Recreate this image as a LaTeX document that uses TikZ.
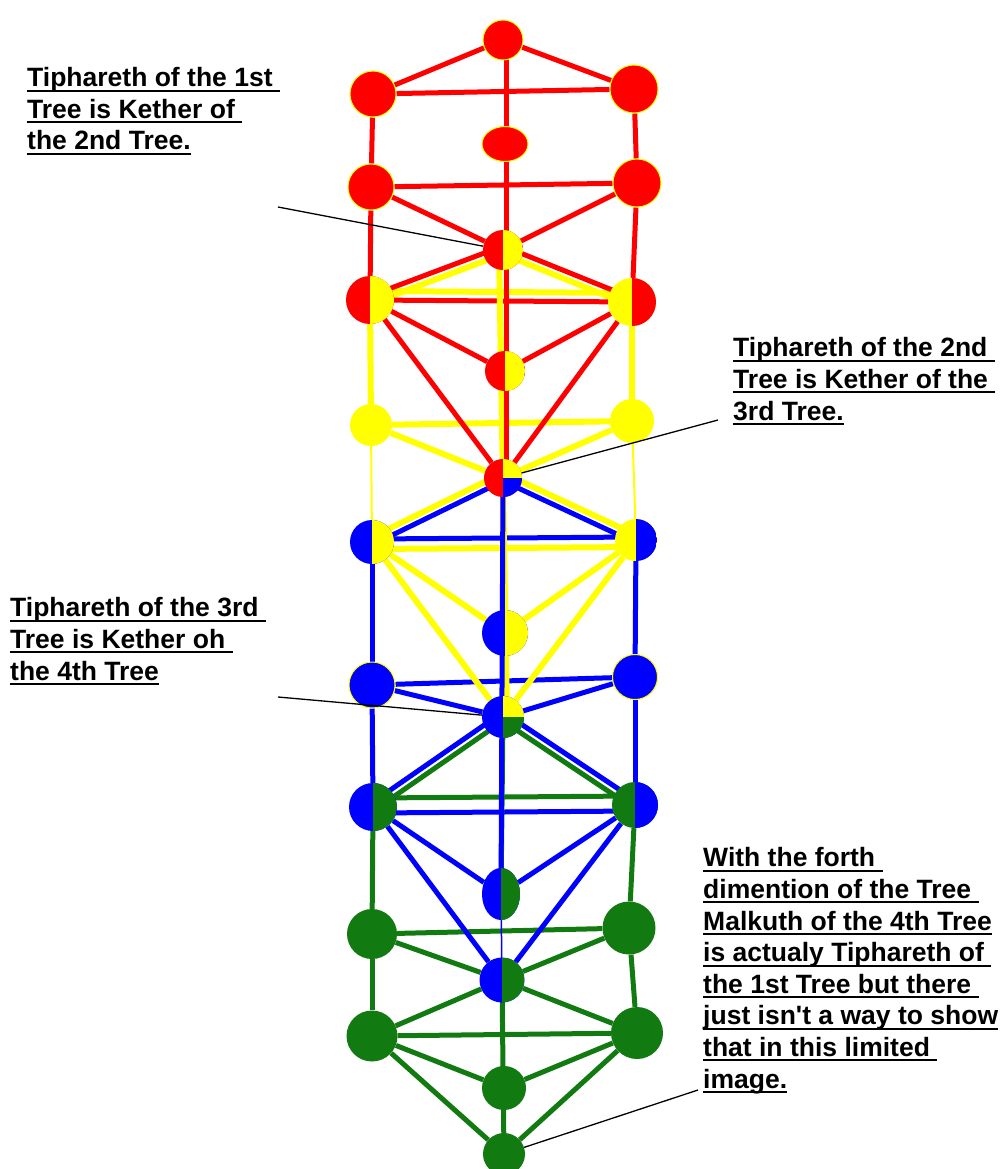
\documentclass[tikz,border=0pt]{standalone}
\usepackage{fontspec}
\setmainfont{Liberation Sans}
\usetikzlibrary{backgrounds,shapes.geometric}
\definecolor{treeR}{HTML}{FF0000}
\definecolor{treeY}{HTML}{FFFF00}
\definecolor{treeB}{HTML}{0000FF}
\definecolor{treeG}{HTML}{117A11}
\newcommand{\undl}[1]{\setbox0\hbox{#1}\rlap{\rule[-5pt]{\wd0}{2pt}}\box0}

\begin{document}
\begin{tikzpicture}[x=1pt, y=-1pt,
  sef/.style={circle, inner sep=0pt, minimum size=#1},
  oval/.style 2 args={ellipse, inner sep=0pt, minimum width=#1, minimum height=#2},
  rim/.style={draw=treeY, line width=1pt},
  half/.style 2 args={fill=#1, path picture={\fill[#2] (path picture bounding box.north) rectangle (path picture bounding box.south east);}},
  third/.style n args={3}{fill=#1, path picture={
    \fill[#2] (path picture bounding box.north) rectangle (path picture bounding box.east);
    \fill[#3] (path picture bounding box.center) rectangle (path picture bounding box.south east);}},
  pathR/.style={treeR, line width=5pt},
  pathY/.style={treeY, line width=6pt},
  pathB/.style={treeB, line width=5pt},
  pathG/.style={treeG, line width=5pt},
  lead/.style={black, line width=1.3pt},
  note/.style={anchor=base west, inner sep=0pt, align=left, font=\fontsize{26.5}{31.6}\selectfont\bfseries}]
  \useasboundingbox (0,0) rectangle (999,1169);

  % first tree (red)
  \node[sef=40, fill=treeR, rim] (rKe) at (503,40) {};
  \node[sef=46, fill=treeR, rim] (rBi) at (373,94) {};
  \node[sef=48, fill=treeR, rim] (rCh) at (634,89) {};
  \node[oval={46}{35}, fill=treeR, rim] (rDa) at (505,144) {};
  \node[sef=46, fill=treeR, rim] (rGe) at (371,187) {};
  \node[sef=48, fill=treeR, rim] (rCs) at (637,183) {};
  \node[sef=40, half={treeR}{treeY}, alias=yKe] (rTi) at (503,250) {};
  \node[sef=48, half={treeR}{treeY}, alias=yBi] (rHo) at (370,300) {};
  \node[sef=48, half={treeY}{treeR}, alias=yCh] (rNe) at (632,302) {};
  \node[sef=40, half={treeR}{treeY}, alias=yDa] (rYe) at (505,371) {};
  \node[sef=38, third={treeR}{treeY}{treeB}, alias=yTi, alias=bKe] (rMa) at (503,478) {};
  % second tree (yellow)
  \node[sef=42, fill=treeY] (yGe) at (371,425) {};
  \node[sef=44, fill=treeY] (yCs) at (632,421) {};
  \node[sef=44, half={treeB}{treeY}, alias=bBi] (yHo) at (372,542) {};
  \node[sef=42, half={treeY}{treeB}, alias=bCh] (yNe) at (636,540) {};
  \node[sef=46, half={treeB}{treeY}, alias=bDa] (yYe) at (505,633) {};
  \node[sef=42, third={treeB}{treeY}{treeG}, alias=bTi, alias=gKe] (yMa) at (503,717) {};
  % third tree (blue)
  \node[sef=46, fill=treeB, rim] (bGe) at (372,685) {};
  \node[sef=45, fill=treeB, rim] (bCs) at (635,677) {};
  \node[sef=48, half={treeB}{treeG}, alias=gBi] (bHo) at (373,807) {};
  \node[sef=46, half={treeG}{treeB}, alias=gCh] (bNe) at (635,805) {};
  \node[oval={38}{52}, half={treeB}{treeG}, alias=gDa] (bYe) at (501,894) {};
  \node[sef=45, half={treeB}{treeG}, alias=gTi] (bMa) at (502,980) {};
  % fourth tree (green)
  \node[sef=50, fill=treeG] (gGe) at (372,934) {};
  \node[sef=53, fill=treeG] (gCs) at (629,928) {};
  \node[sef=51, fill=treeG] (gHo) at (372,1036) {};
  \node[sef=52, fill=treeG] (gNe) at (637,1033) {};
  \node[sef=44, fill=treeG] (gYe) at (504,1088) {};
  \node[sef=42, fill=treeG] (gMa) at (504,1154) {};

  \begin{scope}[on background layer]
    % paths of each tree
    \foreach \a/\b in {Bi/Ge, Ch/Cs, Ge/Cs, Ge/Ti, Cs/Ti, Ti/Ho, Ti/Ne, Ge/Ho, Cs/Ne, Ho/Ne, Ho/Ye, Ne/Ye, Ho/Ma, Ne/Ma}
      \draw[pathG] (g\a) -- (g\b);
    \draw[pathG] ([yshift=-4pt]gKe.center) -- ([yshift=-4pt]gBi.center);
    \draw[pathG] ([yshift=-4pt]gKe.center) -- ([yshift=-4pt]gCh.center);
    \draw[pathG] ([yshift=9pt]gBi.center) -- ([yshift=9pt]gCh.center);

    \foreach \a/\b in {Bi/Ge, Ch/Cs, Ge/Cs, Ge/Ti, Cs/Ti, Ge/Ho, Cs/Ne, Ho/Ye, Ne/Ye, Ho/Ma, Ne/Ma}
      \draw[pathB] (b\a) -- (b\b);
    \draw[pathB] ([yshift=-3pt]bKe.center) -- ([yshift=-3pt]bBi.center);
    \draw[pathB] ([yshift=-3pt]bKe.center) -- ([yshift=-3pt]bCh.center);
    \draw[pathB] ([yshift=3pt]bBi.center) -- ([yshift=3pt]bCh.center);
    \draw[pathB] ([yshift=5pt]bTi.center) -- ([yshift=5pt]bHo.center);
    \draw[pathB] ([yshift=5pt]bTi.center) -- ([yshift=5pt]bNe.center);
    \draw[pathB] ([yshift=-6pt]bHo.center) -- ([yshift=-6pt]bNe.center);

    \foreach \a/\b in {Bi/Ge, Ch/Cs, Ge/Cs, Ge/Ti, Cs/Ti, Ho/Ye, Ne/Ye, Ho/Ma, Ne/Ma}
      \draw[pathY] (y\a) -- (y\b);
    \draw[pathY, line width=2pt] (yGe) -- (yHo);
    \draw[pathY, line width=2pt] (yCs) -- (yNe);
    \draw[pathY] ([yshift=-4pt]yKe.center) -- ([yshift=-4pt]yBi.center);
    \draw[pathY] ([yshift=-4pt]yKe.center) -- ([yshift=-4pt]yCh.center);
    \draw[pathY] ([yshift=9pt]yBi.center) -- ([yshift=9pt]yCh.center);
    \draw[pathY] ([yshift=5pt]yTi.center) -- ([yshift=5pt]yHo.center);
    \draw[pathY] ([yshift=5pt]yTi.center) -- ([yshift=5pt]yNe.center);
    \draw[pathY] ([yshift=-7pt]yHo.center) -- ([yshift=-7pt]yNe.center);

    \foreach \a/\b in {Ke/Bi, Ke/Ch, Bi/Ch, Bi/Ge, Ch/Cs, Ge/Cs, Ge/Ti, Cs/Ti, Ge/Ho, Cs/Ne, Ho/Ne, Ho/Ye, Ne/Ye, Ho/Ma, Ne/Ma}
      \draw[pathR] (r\a) -- (r\b);
    \draw[pathR] ([yshift=4pt]rTi.center) -- ([yshift=4pt]rHo.center);
    \draw[pathR] ([yshift=4pt]rTi.center) -- ([yshift=4pt]rNe.center);

    % middle pillars
    \draw[pathG] (gKe.center) -- (gDa.center);
    \draw[pathG] (gTi.center) -- (gMa.center);
    \draw[pathY] ([xshift=-4pt]yKe.center) -- ([xshift=4pt]yMa.center);
    \draw[pathR] ([xshift=3pt]rKe.center) -- ([xshift=3pt]rMa.center);
    \draw[pathB] (bKe.center) -- (bYe.center);
    \draw[treeB, line width=1.5pt] (bYe.center) -- (bMa.center);
  \end{scope}

  % notes
  \coordinate (l1) at (278,207);
  \coordinate (l2) at (718,420);
  \coordinate (l3) at (278,697);
  \coordinate (l4) at (698,1090);
  \draw[lead] (l1) -- (rTi);
  \draw[lead] (l2) -- (rMa);
  \draw[lead] (l3) -- (yMa);
  \draw[lead] (l4) -- (gMa);

  \node[note] (n1) at (27,150) {\undl{Tiphareth of the 1st\ }\\\undl{Tree is Kether of\ }\\\undl{the 2nd Tree.}};
  \node[note] (n2) at (733,420) {\undl{Tiphareth of the 2nd\ }\\\undl{Tree is Kether of the\ }\\\undl{3rd Tree.}};
  \node[note] (n3) at (10,680) {\undl{Tiphareth of the 3rd\ }\\\undl{Tree is Kether oh\ }\\\undl{the 4th Tree}};
  \node[note] (n4) at (703,1088) {\undl{With the forth\ }\\\undl{dimention of the Tree\ }\\\undl{Malkuth of the 4th Tree}\\\undl{is actualy Tiphareth of\ }\\\undl{the 1st Tree but there\ }\\\undl{just isn\textquotesingle t a way to show}\\\undl{that in this limited\ }\\\undl{image.}};
\end{tikzpicture}
\end{document}
